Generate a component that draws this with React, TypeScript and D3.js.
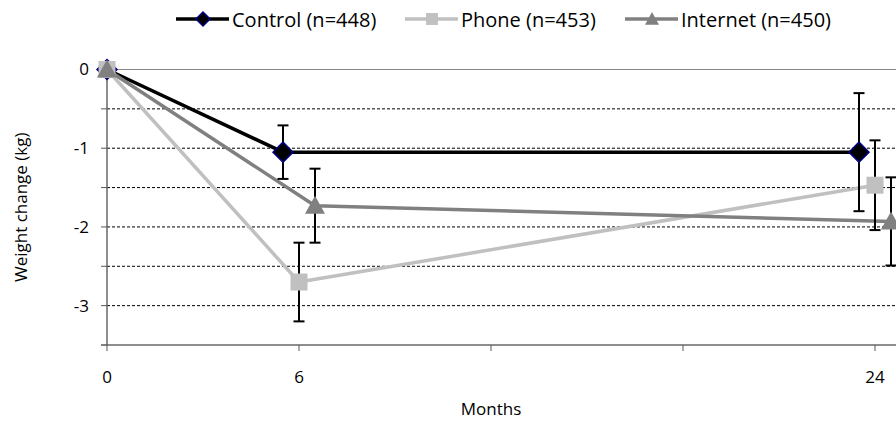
import React from "react";
import * as d3 from "d3";

// Mean weight change (kg) by group, with error bar half-widths
const controlMonths = [0, 5.5, 23.5];
const controlMean = [0, -1.05, -1.05];
const controlErr = [0, 0.34, 0.75];

const phoneMonths = [0, 6, 24];
const phoneMean = [0, -2.7, -1.47];
const phoneErr = [0, 0.5, 0.57];

const internetMonths = [0, 6.5, 24.5];
const internetMean = [0, -1.73, -1.93];
const internetErr = [0, 0.47, 0.56];

const xTicks = [0, 6, 12, 18, 24];
const xTickLabels = ["0", "6", "", "", "24"];
const yTicks = [0, -0.5, -1, -1.5, -2, -2.5, -3, -3.5];
const yTickLabels = ["0", "", "-1", "", "-2", "", "-3", ""];

const seriesNames = ["Control (n=448)", "Phone (n=453)", "Internet (n=450)"];

const W = 896;
const H = 422;
const FONT = "'Open Sans', sans-serif";

type Shape = "diamond" | "square" | "triangle";

function Marker({ shape, x, y, size, fill, stroke }: { shape: Shape; x: number; y: number; size: number; fill: string; stroke: string }) {
  const h = size / 2;
  if (shape === "diamond") {
    return <path d={`M${x},${y - h}L${x + h},${y}L${x},${y + h}L${x - h},${y}Z`} fill={fill} stroke={stroke} strokeWidth={1.5} />;
  }
  if (shape === "square") {
    const s = size * 0.85;
    return <rect x={x - s / 2} y={y - s / 2} width={s} height={s} fill={fill} />;
  }
  const th = size * 0.9;
  return <path d={`M${x},${y - th * 0.55}L${x + h},${y + th * 0.45}L${x - h},${y + th * 0.45}Z`} fill={fill} />;
}

export default function App() {
  const x = d3.scaleLinear().domain([0, 24]).range([107, 875]);
  const y = d3.scaleLinear().domain([-3.5, 0]).range([345, 69.5]);

  const series = [
    { name: seriesNames[0], xs: controlMonths, ys: controlMean, err: controlErr, color: "#000000", shape: "diamond" as Shape, mFill: "#000000", mStroke: "#000080" },
    { name: seriesNames[1], xs: phoneMonths, ys: phoneMean, err: phoneErr, color: "#c0c0c0", shape: "square" as Shape, mFill: "#c0c0c0", mStroke: "none" },
    { name: seriesNames[2], xs: internetMonths, ys: internetMean, err: internetErr, color: "#808080", shape: "triangle" as Shape, mFill: "#808080", mStroke: "none" },
  ];

  const line = d3.line<[number, number]>().x((d) => x(d[0])).y((d) => y(d[1]));

  const legendX = [176, 405, 625];
  const legendY = 19;

  return (
    <svg width={W} height={H} style={{ position: "absolute", left: 0, top: 0, background: "#fff" }} fontFamily={FONT}>
      <rect width={W} height={H} fill="#fff" />

      {/* dotted gridlines */}
      {yTicks.filter((t) => t < 0 && t > -3.5).map((t) => (
        <line key={"g" + t} x1={x(0)} x2={W + 10} y1={y(t)} y2={y(t)} stroke="#000" strokeWidth={1} strokeDasharray="3,2" />
      ))}

      {/* plot area border */}
      <rect x={x(0)} y={y(0)} width={W + 20 - x(0)} height={y(-3.5) - y(0)} fill="none" stroke="#868686" strokeWidth={1} />

      {/* y axis */}
      <line x1={x(0)} x2={x(0)} y1={y(0)} y2={y(-3.5)} stroke="#595959" strokeWidth={1} />
      {yTicks.map((t, i) => (
        <g key={"yt" + t}>
          <line x1={x(0) - 6} x2={x(0)} y1={y(t)} y2={y(t)} stroke="#595959" strokeWidth={1} />
          {yTickLabels[i] && (
            <text x={89} y={y(t)} dy="0.35em" textAnchor="end" fontSize={17} fill="#000">
              {yTickLabels[i]}
            </text>
          )}
        </g>
      ))}

      {/* x axis */}
      <line x1={x(0) - 6} x2={W + 10} y1={y(-3.5)} y2={y(-3.5)} stroke="#595959" strokeWidth={1} />
      {xTicks.map((t, i) => (
        <g key={"xt" + t}>
          <line x1={x(t)} x2={x(t)} y1={y(-3.5)} y2={y(-3.5) + 6} stroke="#595959" strokeWidth={1} />
          {xTickLabels[i] && (
            <text x={x(t)} y={377} dy="0.35em" textAnchor="middle" fontSize={17} fill="#000">
              {xTickLabels[i]}
            </text>
          )}
        </g>
      ))}

      <text x={(x(0) + x(24)) / 2} y={409} dy="0.35em" textAnchor="middle" fontSize={17} fill="#000">
        Months
      </text>
      <text transform={`translate(21,${(y(0) + y(-3.5)) / 2}) rotate(-90)`} dy="0.35em" textAnchor="middle" fontSize={17} fill="#000">
        Weight change (kg)
      </text>

      {/* series lines */}
      {series.map((s) => (
        <path key={"l" + s.name} d={line(s.xs.map((m, i) => [m, s.ys[i]] as [number, number])) || ""} fill="none" stroke={s.color} strokeWidth={3.5} strokeLinejoin="round" />
      ))}

      {/* error bars */}
      {series.map((s) =>
        s.xs.map((m, i) =>
          s.err[i] > 0 ? (
            <g key={"e" + s.name + i} stroke="#000" strokeWidth={2}>
              <line x1={x(m)} x2={x(m)} y1={y(s.ys[i] + s.err[i])} y2={y(s.ys[i] - s.err[i])} />
              <line x1={x(m) - 5.5} x2={x(m) + 5.5} y1={y(s.ys[i] + s.err[i])} y2={y(s.ys[i] + s.err[i])} />
              <line x1={x(m) - 5.5} x2={x(m) + 5.5} y1={y(s.ys[i] - s.err[i])} y2={y(s.ys[i] - s.err[i])} />
            </g>
          ) : null
        )
      )}

      {/* markers */}
      {series.map((s) =>
        s.xs.map((m, i) => (
          <Marker key={"m" + s.name + i} shape={s.shape} x={x(m)} y={y(s.ys[i])} size={20} fill={s.mFill} stroke={s.mStroke} />
        ))
      )}

      {/* legend */}
      {series.map((s, i) => (
        <g key={"lg" + s.name}>
          <line x1={legendX[i]} x2={legendX[i] + 53} y1={legendY} y2={legendY} stroke={s.color} strokeWidth={3.5} />
          <Marker shape={s.shape} x={legendX[i] + 27} y={legendY} size={14} fill={s.mFill} stroke={s.mStroke} />
          <text x={legendX[i] + 56} y={legendY + 1} dy="0.35em" fontSize={20} fill="#000">
            {s.name}
          </text>
        </g>
      ))}
    </svg>
  );
}
